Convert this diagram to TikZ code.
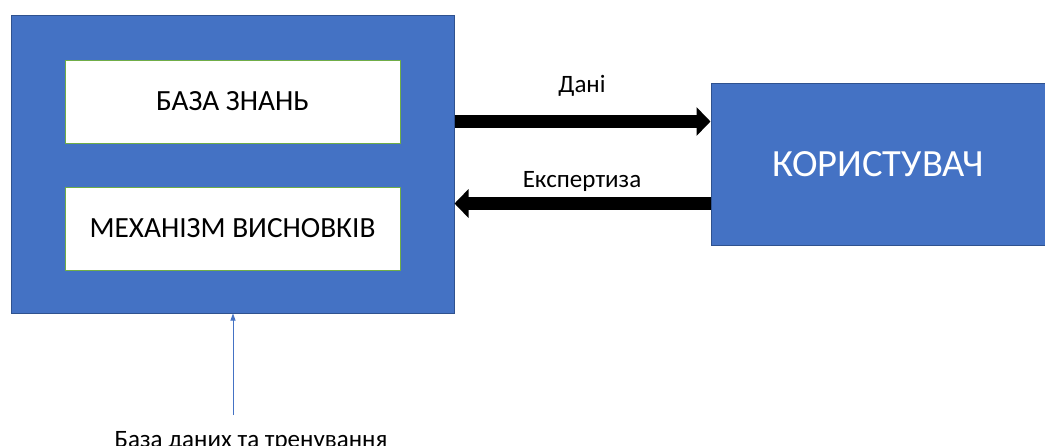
\documentclass[tikz,border=0pt]{standalone}
\usepackage{fontspec}
\setmainfont{Carlito}
\usetikzlibrary{arrows.meta}
\definecolor{fillblue}{HTML}{4472C4}
\definecolor{edgeblue}{HTML}{2F528F}
\definecolor{boxgreen}{HTML}{70AD47}
\tikzset{
  bluebox/.style={draw=edgeblue, line width=1pt, fill=fillblue, inner sep=0pt},
  innerbox/.style={draw=boxgreen, line width=1pt, fill=white, inner sep=0pt, minimum width=335pt, minimum height=83pt, font=\fontsize{29.3}{34}\selectfont},
  bigarrow/.style={line width=13pt, -{Triangle[length=14pt,width=28pt]}},
  lbl/.style={font=\fontsize{25}{29}\selectfont, inner sep=0pt},
}
\begin{document}
\begin{tikzpicture}[x=1pt,y=-1pt]
\useasboundingbox (0,0) rectangle (1045,445);
\node[bluebox, minimum width=443pt, minimum height=298pt] (sys) at (232.5,164) {};
\node[innerbox] (kb) at (232.5,101.5) {БАЗА ЗНАНЬ};
\node[innerbox] (ie) at (232.5,228.5) {МЕХАНІЗМ ВИСНОВКІВ};
\node[bluebox, minimum width=334pt, minimum height=162pt, text=white, font=\fontsize{38.5}{44}\selectfont] (user) at (878,164) {КОРИСТУВАЧ};
\coordinate (a1s) at (sys.east |- 0,121.5);
\coordinate (a1e) at (user.west |- 0,121.5);
\coordinate (a2s) at (user.west |- 0,203.5);
\coordinate (a2e) at (sys.east |- 0,203.5);
\draw[bigarrow] (a1s) -- (a1e);
\draw[bigarrow] (a2s) -- (a2e);
\node[lbl] (dani) at (582,86) {Дані};
\node[lbl] (exp) at (582,181) {Експертиза};
\node[lbl, anchor=north] (db) at (251,431) {База даних та тренування};
\coordinate (dbtop) at (233,415);
\draw[fillblue, line width=0.8pt, -{Triangle[length=7pt,width=5pt]}] (dbtop) -- (sys.south -| dbtop);
\end{tikzpicture}
\end{document}
